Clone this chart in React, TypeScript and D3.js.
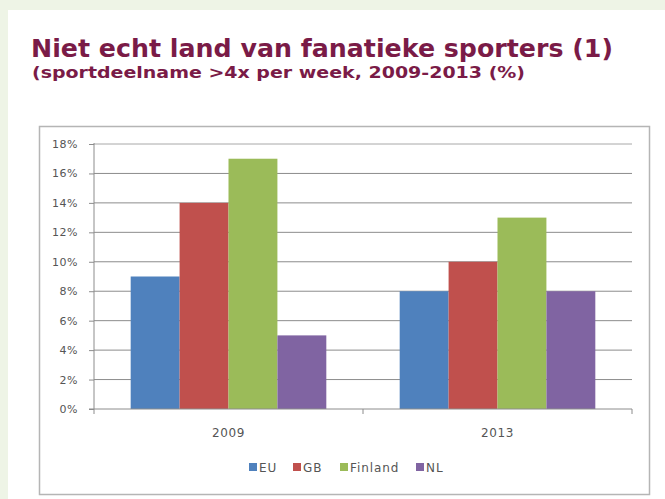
import { useEffect, useRef } from "react";
import * as d3 from "d3";

const years = ["2009", "2013"];
const countries = ["EU", "GB", "Finland", "NL"];
const values2009 = [9, 14, 17, 5];
const values2013 = [8, 10, 13, 8];
const yTicks = [0, 2, 4, 6, 8, 10, 12, 14, 16, 18];
const colors = ["#4f81bd", "#c0504d", "#9bbb59", "#8064a2"];

export default function App() {
  const svgRef = useRef<SVGSVGElement>(null);

  useEffect(() => {
    const width = 665;
    const height = 499;
    const svg = d3.select(svgRef.current).attr("width", width).attr("height", height);
    svg.selectAll("*").remove();

    svg.append("rect").attr("width", width).attr("height", height).attr("fill", "#eef4e6");
    svg.append("rect").attr("x", 8).attr("y", 10).attr("width", width - 8).attr("height", height - 10).attr("fill", "#fff");

    svg
      .append("text")
      .attr("x", 31)
      .attr("y", 57)
      .attr("font-family", "DejaVu Sans")
      .attr("font-weight", "bold")
      .attr("font-size", 24.5)
      .attr("fill", "#7a1b47")
      .attr("textLength", 582)
      .attr("lengthAdjust", "spacingAndGlyphs")
      .text("Niet echt land van fanatieke sporters (1)");

    svg
      .append("text")
      .attr("x", 32)
      .attr("y", 78)
      .attr("font-family", "DejaVu Sans")
      .attr("font-weight", "bold")
      .attr("font-size", 16.5)
      .attr("fill", "#7a1b47")
      .attr("textLength", 493)
      .attr("lengthAdjust", "spacingAndGlyphs")
      .text("(sportdeelname >4x per week, 2009-2013 (%)");

    // chart frame
    svg
      .append("rect")
      .attr("x", 39.5)
      .attr("y", 126.5)
      .attr("width", 610)
      .attr("height", 368)
      .attr("fill", "#fff")
      .attr("stroke", "#b5b5b5")
      .attr("stroke-width", 1.5);

    const left = 94;
    const right = 632;
    const top = 144;
    const bottom = 409;

    const y = d3.scaleLinear().domain([0, 18]).range([bottom, top]);
    const x0 = d3.scaleBand().domain(years).range([left, right]).paddingInner(0).paddingOuter(0);
    const x1 = d3
      .scaleBand()
      .domain(countries)
      .range([0, x0.bandwidth()])
      .paddingOuter(0.75)
      .paddingInner(0);

    const g = svg.append("g");

    g.selectAll("line.grid")
      .data(yTicks.slice(1))
      .enter()
      .append("line")
      .attr("x1", left)
      .attr("x2", right)
      .attr("y1", (d) => y(d))
      .attr("y2", (d) => y(d))
      .attr("stroke", (d) => (d === 18 ? "#a8a8a8" : "#8c8c8c"))
      .attr("stroke-width", 1);

    const series = [values2009, values2013];
    years.forEach((yr, i) => {
      g.selectAll(`rect.b${yr}`)
        .data(series[i])
        .enter()
        .append("rect")
        .attr("x", (_d, j) => (x0(yr) as number) + (x1(countries[j]) as number))
        .attr("y", (d) => y(d))
        .attr("width", x1.bandwidth())
        .attr("height", (d) => bottom - y(d))
        .attr("fill", (_d, j) => colors[j]);
    });

    const yAxis = d3
      .axisLeft(y)
      .tickValues(yTicks)
      .tickSize(5)
      .tickPadding(11)
      .tickFormat((d) => `${d}%`);
    const ya = svg.append("g").attr("transform", `translate(${left},0)`).call(yAxis);
    ya.select(".domain").attr("stroke", "#8c8c8c").attr("d", `M-5,${bottom}H0V${top - 1}`);
    ya.selectAll(".tick line").attr("stroke", "#8c8c8c");
    ya.selectAll(".tick text")
      .attr("font-family", "DejaVu Sans")
      .attr("font-size", 11)
      .attr("letter-spacing", 0.5)
      .attr("fill", "#555");

    const xa = svg.append("g").attr("transform", `translate(0,${bottom})`);
    xa.append("line").attr("x1", left).attr("x2", right).attr("stroke", "#8c8c8c");
    xa.selectAll("line.t")
      .data([left, right, (x0("2013") as number)])
      .enter()
      .append("line")
      .attr("x1", (d) => d)
      .attr("x2", (d) => d)
      .attr("y1", 0)
      .attr("y2", 5)
      .attr("stroke", "#8c8c8c");
    xa.selectAll("text")
      .data(years)
      .enter()
      .append("text")
      .attr("x", (d) => (x0(d) as number) + x0.bandwidth() / 2)
      .attr("y", 28)
      .attr("text-anchor", "middle")
      .attr("font-family", "DejaVu Sans")
      .attr("font-size", 12)
      .attr("letter-spacing", 0.6)
      .attr("fill", "#555")
      .text((d) => d);

    const legendX = [249, 293, 340, 416];
    const lg = svg.append("g").attr("transform", "translate(0,467)");
    lg.selectAll("rect")
      .data(countries)
      .enter()
      .append("rect")
      .attr("x", (_d, i) => legendX[i])
      .attr("y", -4)
      .attr("width", 8)
      .attr("height", 8)
      .attr("fill", (_d, i) => colors[i]);
    lg.selectAll("text")
      .data(countries)
      .enter()
      .append("text")
      .attr("x", (_d, i) => legendX[i] + 10)
      .attr("y", 4.5)
      .attr("font-family", "DejaVu Sans")
      .attr("font-size", 12)
      .attr("letter-spacing", 0.9)
      .attr("fill", "#555")
      .text((d) => d);
  }, []);

  return <svg ref={svgRef} style={{ position: "absolute", left: 0, top: 0 }}></svg>;
}
